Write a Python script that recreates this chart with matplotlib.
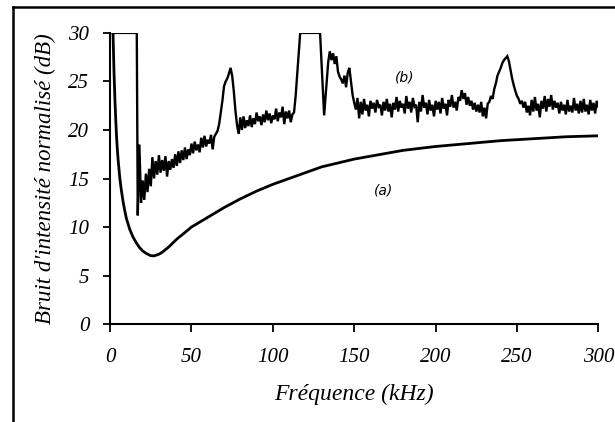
import numpy as np
import matplotlib
matplotlib.use("Agg")
import matplotlib.pyplot as plt
from matplotlib.lines import Line2D

# curve (a): smooth model curve
freq_a = [1.8, 2.4, 3, 3.5, 4, 4.5, 5, 6, 7, 8, 9, 10, 12, 14, 16, 18, 20, 22, 25, 27,
          30, 32, 35, 37, 40, 42, 45, 50, 55, 60, 65, 70, 75, 80, 90,
          100, 110, 120, 130, 140, 150, 160, 170, 180, 190, 200, 220, 240, 260, 280, 300]
noise_a = [30.0, 26.0, 23.0, 21.0, 19.2, 17.9, 16.8, 15.0, 13.7, 12.6, 11.7, 10.9, 9.8,
           9.0, 8.4, 7.9, 7.55, 7.3, 7.05, 7.03, 7.2, 7.4, 7.8, 8.1, 8.6, 8.9, 9.3,
           10.0, 10.5, 11.0, 11.5, 12.0, 12.45, 12.9, 13.7, 14.4, 15.0, 15.6, 16.2,
           16.6, 17.0, 17.3, 17.6, 17.9, 18.1, 18.3, 18.6, 18.9, 19.1, 19.3, 19.4]

# curve (b): measured noise, saturated parts at 30 dB
freq_b_start = [1.5, 2.0, 16.4]
noise_b_start = [30.0, 30.0, 30.0]

freq_b1 = np.arange(17, 114)
noise_b1 = [11.2, 18.5, 12.5, 14.8, 12.8, 15.5, 13.6, 16.0, 14.2, 17.2,
            15.0, 16.8, 15.4, 17.4, 15.6, 16.9, 15.8, 17.3, 15.2, 16.8,
            15.9, 17.0, 16.1, 17.5, 16.3, 17.8, 16.6, 17.9, 16.9, 18.2,
            17.0, 18.0, 17.4, 18.6, 17.6, 18.8, 17.9, 18.5, 17.7, 19.2,
            18.2, 19.4, 18.3, 19.0, 18.6, 19.5, 18.0, 19.3, 19.6, 19.9,
            20.6, 21.8, 23.0, 24.5, 25.0, 25.3, 25.8, 26.4, 25.6, 24.0,
            22.0, 20.5, 19.6, 21.3, 20.0, 21.4, 20.2, 21.0, 20.4, 21.5,
            20.3, 21.2, 20.6, 21.8, 20.9, 21.4, 20.5, 21.6, 20.8, 22.0,
            21.0, 21.7, 20.7, 21.5, 21.1, 22.2, 20.9, 21.8, 21.3, 22.4,
            20.6, 21.9, 21.2, 22.0, 20.8, 21.6, 21.8]

freq_b_mid = [114, 116.8, 129, 131.5, 133.5]
noise_b_mid = [23.5, 30.0, 30.0, 21.5, 26.0]

freq_b2 = np.arange(134, 301)
noise_b2 = [27.0, 28.1, 27.2, 27.9, 26.8, 27.6, 26.0, 25.5, 25.2, 24.8,
            25.6, 24.4, 25.9, 26.4, 25.0, 23.6, 22.8, 22.1, 23.3, 21.2,
            22.9, 21.6, 23.2, 22.0, 22.6, 21.4, 23.0, 22.2, 22.8, 21.8,
            23.1, 22.4, 22.6, 21.5, 22.9, 22.0, 23.2, 21.9, 22.7, 21.3,
            22.8, 22.1, 23.4, 21.9, 23.0, 22.3, 22.7, 21.7, 23.5, 22.2,
            22.9, 21.8, 23.3, 22.4, 22.6, 20.8, 22.9, 21.9, 23.6, 22.3,
            22.8, 21.6, 23.1, 22.0, 22.6, 21.4, 23.0, 22.1, 22.9, 21.7,
            23.3, 22.2, 22.7, 21.5, 23.1, 22.4, 23.6, 22.3, 22.9, 22.0,
            23.4, 23.0, 24.1, 23.2, 23.8, 22.6, 23.4, 22.5, 23.0, 22.1,
            22.8, 21.9, 22.6, 21.8, 22.9, 21.4, 22.3, 21.2, 22.7, 22.9,
            23.5, 23.2, 24.2, 24.8, 25.6, 26.0, 26.4, 26.9, 27.2, 27.4,
            27.6, 27.1, 26.2, 25.3, 24.6, 24.0, 23.5, 23.2, 22.7, 23.0,
            22.3, 22.9, 21.8, 22.5, 21.5, 23.1, 21.9, 23.4, 22.0, 22.7,
            21.3, 23.0, 22.2, 23.5, 21.9, 23.2, 22.4, 23.6, 22.1, 23.0,
            22.3, 22.8, 21.7, 22.9, 22.0, 22.6, 21.6, 23.1, 21.9, 22.5,
            21.8, 23.3, 22.0, 22.7, 21.7, 23.0, 21.8, 23.2, 21.9, 22.6,
            21.6, 23.1, 22.0, 22.8, 21.7, 23.0, 22.4]

freq_b = np.concatenate([freq_b_start, freq_b1, freq_b_mid, freq_b2])
noise_b = np.concatenate([noise_b_start, noise_b1, noise_b_mid, noise_b2])

xticks = [0, 50, 100, 150, 200, 250, 300]
yticks = [0, 5, 10, 15, 20, 25, 30]

serif = "Liberation Serif"

fig = plt.figure(figsize=(6.15, 4.22), dpi=100)
ax = fig.add_axes([0.179, 0.232, 0.794, 0.690])

ax.plot(freq_a, noise_a, color="black", lw=2.0, solid_capstyle="butt")
ax.plot(freq_b, noise_b, color="black", lw=1.7, solid_joinstyle="miter")

ax.set_xlim(0, 300)
ax.set_ylim(0, 30)
ax.set_xticks(xticks)
ax.set_yticks(yticks)
ax.set_xticklabels([str(t) for t in xticks], family=serif, style="italic", fontsize=15)
ax.set_yticklabels([str(t) for t in yticks], family=serif, style="italic", fontsize=15)
ax.tick_params(axis="x", direction="out", length=6, width=1.3, pad=11)
ax.tick_params(axis="y", direction="out", length=5, width=1.3, pad=10)

for side in ["top", "right"]:
    ax.spines[side].set_visible(False)
for side in ["left", "bottom"]:
    ax.spines[side].set_linewidth(1.5)

ax.set_xlabel("Fréquence (kHz)", family=serif, style="italic", fontsize=17, labelpad=12)
ax.set_ylabel("Bruit d'intensité normalisé (dB)", family=serif, style="italic",
              fontsize=16.5, labelpad=9)

ax.text(181, 25.4, "(b)", family="DejaVu Sans", style="italic", fontsize=10, ha="center", va="center")
ax.text(168, 13.8, "(a)", family="DejaVu Sans", style="italic", fontsize=10, ha="center", va="center")

# outer frame of the scanned figure (top and left edges)
fig.add_artist(Line2D([0.021, 1.0], [0.983, 0.983], transform=fig.transFigure, color="black", lw=1.8))
fig.add_artist(Line2D([0.021, 0.021], [0.0, 0.983], transform=fig.transFigure, color="black", lw=1.8))

fig.savefig("out.png", dpi=100)
